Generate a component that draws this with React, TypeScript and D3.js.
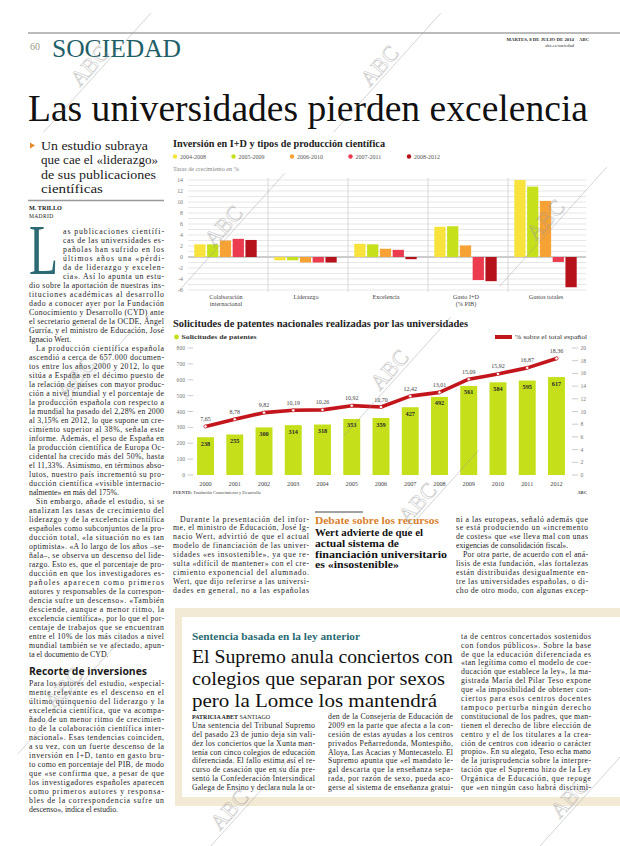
import React from "react";
import * as d3 from "d3";

const SERIF = "'Liberation Serif','Times New Roman',serif";
const SANS = "'Open Sans','Liberation Sans',sans-serif";

// ---------- Chart 1 data ----------
const groups = ["Colaboración internacional", "Liderazgo", "Excelencia", "Gasto I+D (% PIB)", "Gastos totales"];
const groupLabelLines = [["Colaboración", "internacional"], ["Liderazgo"], ["Excelencia"], ["Gasto I+D", "(% PIB)"], ["Gastos totales"]];
const periods = ["2004-2008", "2005-2009", "2006-2010", "2007-2011", "2008-2012"];
const p2004_2008 = [2.3, -0.6, 2.4, 5.5, 14.0];
const p2005_2009 = [2.3, -0.6, 2.3, 5.6, 12.8];
const p2006_2010 = [3.0, -1.0, 1.5, 2.1, 10.2];
const p2007_2011 = [3.3, -1.0, 1.3, -4.2, -0.9];
const p2008_2012 = [3.1, -1.0, -0.4, -4.4, -5.5];
const periodColors = ["#f8e23c", "#c6e01c", "#f6a235", "#ec3a4f", "#b5121c"];
const yTicks1 = [-6, -4, -2, 0, 2, 4, 6, 8, 10, 12, 14];

// ---------- Chart 2 data ----------
const years = ["2000", "2001", "2002", "2003", "2004", "2005", "2006", "2007", "2008", "2009", "2010", "2011", "2012"];
const patents = [238, 255, 300, 314, 318, 353, 359, 427, 492, 561, 584, 595, 617];
const shares = [7.65, 8.78, 9.82, 10.19, 10.26, 10.92, 10.7, 12.42, 13.01, 15.09, 15.92, 16.87, 18.36];
const leftTicks = [0, 100, 200, 300, 400, 500, 600, 700, 800];
const rightTicks = [0, 2, 4, 6, 8, 10, 12, 14, 16, 18, 20];

// ---------- Text ----------
const subtitle = ["Un estudio subraya", "que cae el «liderazgo»", "de sus publicaciones", "científicas"];
const leftCol = [
  "as publicaciones científi-",
  "cas de las universidades es-",
  "pañolas han sufrido en los",
  "últimos años una «pérdi-",
  "da de liderazgo y excelen-",
  "cia». Así lo apunta un estu-",
  "dio sobre la aportación de nuestras ins-",
  "tituciones académicas al desarrollo",
  "dado a conocer ayer por la Fundación",
  "Conocimiento y Desarrollo (CYD) ante",
  "el secretario general de la OCDE, Ángel",
  "Gurría, y el ministro de Educación, José",
  "Ignacio Wert.$",
  "^La producción científica española",
  "ascendió a cerca de 657.000 documen-",
  "tos entre los años 2000 y 2012, lo que",
  "sitúa a España en el décimo puesto de",
  "la relación de países con mayor produc-",
  "ción a nivel mundial y el porcentaje de",
  "la producción española con respecto a",
  "la mundial ha pasado del 2,28% en 2000",
  "al 3,15% en 2012, lo que supone un cre-",
  "cimiento superior al 38%, señala este",
  "informe. Además, el peso de España en",
  "la producción científica de Europa Oc-",
  "cidental ha crecido más del 50%, hasta",
  "el 11,33%. Asimismo, en términos abso-",
  "lutos, nuestro país incrementó su pro-",
  "ducción científica «visible internacio-",
  "nalmente» en más del 175%.$",
  "^Sin embargo, añade el estudio, si se",
  "analizan las tasas de crecimiento del",
  "liderazgo y de la excelencia científica",
  "españoles como subconjuntos de la pro-",
  "ducción total, «la situación no es tan",
  "optimista». «A lo largo de los años –se-",
  "ñala–, se observa un descenso del lide-",
  "razgo. Esto es, que el porcentaje de pro-",
  "ducción en que los investigadores es-",
  "pañoles aparecen como primeros",
  "autores y responsables de la correspon-",
  "dencia sufre un descenso». «También",
  "desciende, aunque a menor ritmo, la",
  "excelencia científica», por lo que el por-",
  "centaje de trabajos que se encuentran",
  "entre el 10% de los más citados a nivel",
  "mundial también se ve afectado, apun-",
  "ta el documento de CYD.$",
];
const leftCol2 = [
  "Para los autores del estudio, «especial-",
  "mente relevante es el descenso en el",
  "último quinquenio del liderazgo y la",
  "excelencia científica, que va acompa-",
  "ñado de un menor ritmo de crecimien-",
  "to de la colaboración científica inter-",
  "nacional». Esas tendencias coinciden,",
  "a su vez, con un fuerte descenso de la",
  "inversión en I+D, tanto en gasto bru-",
  "to como en porcentaje del PIB, de modo",
  "que «se confirma que, a pesar de que",
  "los investigadores españoles aparecen",
  "como primeros autores y responsa-",
  "bles de la correspondencia sufre un",
  "descenso», indica el estudio.$",
];
const midCol = [
  "^Durante la presentación del infor-",
  "me, el ministro de Educación, José Ig-",
  "nacio Wert, advirtió de que el actual",
  "modelo de financiación de las univer-",
  "sidades «es insostenible», ya que re-",
  "sulta «difícil de mantener» con el cre-",
  "cimiento exponencial del alumnado.",
  "Wert, que dijo referirse a las universi-",
  "dades en general, no a las españolas",
];
const rightCol = [
  "ni a las europeas, señaló además que",
  "se está produciendo un «incremento",
  "de costes» que «se lleva mal con unas",
  "exigencias de consolidación fiscal».$",
  "^Por otra parte, de acuerdo con el aná-",
  "lisis de esta fundación, «las fortalezas",
  "están distribuidas desigualmente en-",
  "tre las universidades españolas, o di-",
  "cho de otro modo, con algunas excep-",
];
const debateHead = ["Wert advierte de que el", "actual sistema de", "financiación universitario", "es «insostenible»"];
const boxHead = ["El Supremo anula conciertos con", "colegios que separan por sexos", "pero la Lomce los mantendrá"];
const boxColA = [
  "Una sentencia del Tribunal Supremo",
  "del pasado 23 de junio deja sin vali-",
  "dez los conciertos que la Xunta man-",
  "tenía con cinco colegios de educación",
  "diferenciada. El fallo estima así el re-",
  "curso de casación que en su día pre-",
  "sentó la Confederación Intersindical",
  "Galega de Ensino y declara nula la or-",
];
const boxColB = [
  "den de la Consejería de Educación de",
  "2009 en la parte que afecta a la con-",
  "cesión de estas ayudas a los centros",
  "privados Peñarredonda, Montespiño,",
  "Aloya, Las Acacias y Montecastelo. El",
  "Supremo apunta que «el mandato le-",
  "gal descarta que la enseñanza sepa-",
  "rada, por razón de sexo, pueda aco-",
  "gerse al sistema de enseñanza gratui-",
];
const boxColC = [
  "ta de centros concertados sostenidos",
  "con fondos públicos». Sobre la base",
  "de que la educación diferenciada es",
  "«tan legítima como el modelo de coe-",
  "ducación que establece la ley», la ma-",
  "gistrada María del Pilar Teso expone",
  "que «la imposibilidad de obtener con-",
  "ciertos para esos centros docentes",
  "tampoco perturba ningún derecho",
  "constitucional de los padres, que man-",
  "tienen el derecho de libre elección de",
  "centro y el de los titulares a la crea-",
  "ción de centros con ideario o carácter",
  "propio». En su alegato, Teso echa mano",
  "de la jurisprudencia sobre la interpre-",
  "tación que el Supremo hizo de la Ley",
  "Orgánica de Educación, que recoge",
  "que «en ningún caso habrá discrimi-",
];

const watermarks = [
  [92, 68], [382, 68], [226, 228], [548, 222], [392, 372], [78, 380], [420, 505], [232, 812], [572, 800], [66, 690],
];

function parse(raw: string) {
  let s = raw, ind = 0, last = false;
  if (s.startsWith("^")) { s = s.slice(1); ind = 7; }
  if (s.endsWith("$")) { s = s.slice(0, -1); last = true; }
  return { s, ind, last };
}

function column(lines: string[], x: number, width: number, y0: number, lh: number) {
  return lines.map((raw, i) => {
    const { s, ind, last } = parse(raw);
    return (
      <text key={i} x={x + ind} y={y0 + i * lh} fontSize={7.8} fontFamily={SERIF} fill="#1e1e1e"
        textLength={last ? undefined : width - ind} lengthAdjust="spacing">{s}</text>
    );
  });
}

function Watermark({ x, y }: { x: number; y: number }) {
  return (
    <g transform={`translate(${x},${y}) rotate(-48)`} opacity={0.55}>
      <line x1={-80} y1={7} x2={80} y2={7} stroke="#9a9a9a" strokeWidth={0.7} />
      <text x={0} y={4} textAnchor="middle" fontSize={22} fontFamily={SERIF} fill="none" stroke="#9a9a9a" strokeWidth={0.6}>ABC</text>
    </g>
  );
}

export default function App() {
  const series1 = [p2004_2008, p2005_2009, p2006_2010, p2007_2011, p2008_2012];
  const x1 = d3.scaleBand<string>().domain(groups).range([188, 588]);
  const xs = d3.scaleBand<string>().domain(periods).range([6.3, 68.7]).paddingInner(0.12);
  const y1 = d3.scaleLinear().domain([-6, 14]).range([290, 180]);
  const grid1 = d3.range(-6, 15, 1);

  const x2 = d3.scaleBand<string>().domain(years).range([190.9, 571.1]).paddingInner(0.42).paddingOuter(0.21);
  const yL = d3.scaleLinear().domain([0, 800]).range([475, 348]);
  const yR = d3.scaleLinear().domain([0, 20]).range([475, 348]);
  const cx = (i: number) => (x2(years[i]) as number) + x2.bandwidth() / 2;
  const linePath = d3.line<number>().x((_, i) => cx(i)).y((d) => yR(d))(shares) || "";
  const fmt = (v: number) => d3.format(".2f")(v).replace(".", ",");

  const lh = 9;
  const colY = 233.5;
  const subW = [107, 117, 115, 62];
  const headW = [261, 253, 245];

  return (
    <svg width={620} height={846} style={{ position: "absolute", left: 0, top: 0, background: "#fff" }}>
      <rect x={0} y={0} width={620} height={846} fill="#fff" />

      {/* Header */}
      <line x1={28} y1={33} x2={620} y2={33} stroke="#666" strokeWidth={0.9} />
      <text x={30} y={50} fontSize={10} fontFamily={SERIF} fill="#9a9a8a">60</text>
      <text x={52} y={57} fontSize={25} fontFamily={SERIF} fill="#1f6068" textLength={129} lengthAdjust="spacingAndGlyphs">SOCIEDAD</text>
      <text x={574} y={41} textAnchor="end" fontSize={4.8} fontFamily={SERIF} fontWeight="bold" fill="#333">MARTES, 8 DE JULIO DE 2014</text>
      <text x={579} y={41} fontSize={4.8} fontFamily={SERIF} fontWeight="bold" fill="#333">ABC</text>
      <text x={574} y={47} textAnchor="end" fontSize={4.6} fontFamily={SERIF} fill="#333">abc.es/sociedad</text>

      <text x={28} y={121} fontSize={37} fontFamily={SERIF} fill="#111" textLength={560} lengthAdjust="spacingAndGlyphs">Las universidades pierden excelencia</text>

      {/* Subtitle */}
      <path d="M30,142.5 L35,145.5 L30,148.5 Z" fill="#e8892b" />
      {subtitle.map((t, i) => (
        <text key={i} x={41} y={149.5 + i * 14.5} fontSize={12.6} fontFamily={SERIF} fill="#1a1a1a"
          textLength={subW[i]} lengthAdjust="spacingAndGlyphs">{t}</text>
      ))}
      <line x1={28} y1={200.5} x2={164} y2={200.5} stroke="#999" strokeWidth={1.4} />

      {/* Byline + drop cap (drop cap squeezed by transform) */}
      <text x={29} y={210} fontSize={6.2} fontWeight="bold" fontFamily={SERIF} fill="#222">M. TRILLO</text>
      <text x={29} y={217.5} fontSize={5.6} letterSpacing={0.3} fontFamily={SERIF} fill="#222">MADRID</text>
      <text transform="translate(29,274) scale(0.67,1)" x={0} y={0} fontSize={71} fontFamily={SERIF} fill="#2b6a73">L</text>
      {column(leftCol.slice(0, 6), 63, 101, colY, lh)}
      {column(leftCol.slice(6), 29, 135, colY + 6 * lh, lh)}
      <text x={29} y={674.5} fontSize={10.5} fontFamily={SANS} fontWeight="bold" fill="#1a1a1a" textLength={118} lengthAdjust="spacingAndGlyphs">Recorte de inversiones</text>
      {column(leftCol2, 29, 135, 686, lh)}

      {/* Chart 1 */}
      <text x={173} y={146.5} fontSize={10} fontFamily={SERIF} fontWeight="bold" fill="#222" textLength={212} lengthAdjust="spacingAndGlyphs">Inversión en I+D y tipos de producción científica</text>
      {periods.map((p, i) => (
        <g key={p}>
          <circle cx={175 + i * 58.5} cy={156.5} r={2.2} fill={periodColors[i]} />
          <text x={180 + i * 58.5} y={158.6} fontSize={6} fontFamily={SERIF} fill="#555">{p}</text>
        </g>
      ))}
      <text x={173} y={170.5} fontSize={6.2} fontFamily={SERIF} fill="#888">Tasas de crecimiento en %</text>
      {grid1.map((v) => (
        <line key={v} x1={188} x2={586} y1={y1(v)} y2={y1(v)} stroke={v === 0 ? "#9a9a9a" : "#d6d6d6"} strokeWidth={v === 0 ? 1 : 0.6} />
      ))}
      {yTicks1.map((v) => (
        <text key={v} x={183} y={y1(v) + 2} textAnchor="end" fontSize={5.8} fontFamily={SERIF} fill="#777">{v}</text>
      ))}
      {groups.slice(1).map((g) => (
        <line key={g} x1={x1(g)} x2={x1(g)} y1={178} y2={292} stroke="#c8c8c8" strokeWidth={0.7} />
      ))}
      {groups.map((g, gi) => (
        <g key={g}>
          {series1.map((s, si) => {
            const v = s[gi];
            const yTop = y1(Math.max(v, 0));
            const h = Math.abs(y1(v) - y1(0));
            return <rect key={si} x={(x1(g) as number) + (xs(periods[si]) as number)} y={yTop} width={xs.bandwidth()} height={h} fill={periodColors[si]} />;
          })}
          {groupLabelLines[gi].map((t, li) => (
            <text key={li} x={(x1(g) as number) + x1.bandwidth() / 2 - 2} y={298.5 + li * 7.5} textAnchor="middle" fontSize={6.2} fontFamily={SERIF} fill="#444">{t}</text>
          ))}
        </g>
      ))}

      {/* Chart 2 */}
      <text x={173} y={326.5} fontSize={10.5} fontFamily={SERIF} fontWeight="bold" fill="#222" textLength={295} lengthAdjust="spacingAndGlyphs">Solicitudes de patentes nacionales realizadas por las universidades</text>
      <circle cx={176.5} cy={337} r={2.4} fill="#c5e01b" />
      <text x={181.5} y={339.3} fontSize={6.4} fontFamily={SERIF} fontWeight="bold" fill="#333" textLength={75} lengthAdjust="spacingAndGlyphs">Solicitudes de patentes</text>
      <line x1={495} x2={512} y1={337} y2={337} stroke="#c3161c" strokeWidth={4} />
      <text x={587} y={339.3} textAnchor="end" fontSize={6.2} fontFamily={SERIF} fill="#333" textLength={72} lengthAdjust="spacingAndGlyphs">% sobre el total español</text>
      {leftTicks.map((v) => (
        <g key={v}>
          <text x={185} y={yL(v) + 2} textAnchor="end" fontSize={5.6} fontFamily={SERIF} fill="#777">{v}</text>
          <line x1={187.5} x2={193} y1={yL(v)} y2={yL(v)} stroke="#aaa" strokeWidth={0.6} />
        </g>
      ))}
      {rightTicks.map((v) => (
        <g key={v}>
          <line x1={572} x2={578} y1={yR(v)} y2={yR(v)} stroke="#aaa" strokeWidth={0.6} />
          <text x={580.5} y={yR(v) + 2} fontSize={5.6} fontFamily={SERIF} fill="#777">{v}</text>
        </g>
      ))}
      {patents.map((v, i) => (
        <g key={years[i]}>
          <rect x={x2(years[i])} y={yL(v)} width={x2.bandwidth()} height={yL(0) - yL(v)} fill="#c5e01b" />
          <text x={cx(i)} y={yL(v) + 8.5} textAnchor="middle" fontSize={6.3} fontFamily={SERIF} fontWeight="bold" fill="#2a2a2a">{v}</text>
          <text x={cx(i)} y={485.5} textAnchor="middle" fontSize={6.2} fontFamily={SERIF} fill="#444">{years[i]}</text>
        </g>
      ))}
      <path d={linePath} fill="none" stroke="#c3161c" strokeWidth={3.6} strokeLinejoin="round" strokeLinecap="round" />
      {shares.map((v, i) => (
        <g key={i}>
          <circle cx={cx(i)} cy={yR(v)} r={1.6} fill="#fff" stroke="#c3161c" strokeWidth={0.6} />
          <text x={cx(i)} y={yR(v) - 5.5} textAnchor="middle" fontSize={6} fontFamily={SERIF} fill="#444">{fmt(v)}</text>
        </g>
      ))}
      <text x={173} y={494} fontSize={4.4} fontFamily={SERIF} fill="#444"><tspan fontWeight="bold">FUENTE:</tspan> Fundación Conocimiento y Desarrollo</text>
      <text x={587} y={494} textAnchor="end" fontSize={4.6} fontFamily={SERIF} fontWeight="bold" fill="#444">ABC</text>

      {/* Middle articles */}
      {column(midCol, 173, 136, 521.5, 8.9)}
      <line x1={315} x2={363} y1={512} y2={512} stroke="#444" strokeWidth={1} />
      <text x={315} y={524.3} fontSize={9.5} fontFamily={SERIF} fontWeight="bold" fill="#d9802a" textLength={124} lengthAdjust="spacingAndGlyphs">Debate sobre los recursos</text>
      {debateHead.map((t, i) => (
        <text key={i} x={315} y={536 + i * 10.8} fontSize={9.4} fontFamily={SERIF} fontWeight="bold" fill="#111"
          textLength={[108, 84, 132, 84][i]} lengthAdjust="spacingAndGlyphs">{t}</text>
      ))}
      {column(rightCol, 456, 132, 521.5, 8.9)}

      {/* Box article */}
      <rect x={175} y={608} width={445} height={198} fill="#f3ead6" />
      <rect x={182} y={617} width={438} height={180} fill="#fff" />
      <text x={192} y={639.5} fontSize={9.3} fontFamily={SERIF} fontWeight="bold" fill="#2a6b73" textLength={168} lengthAdjust="spacingAndGlyphs">Sentencia basada en la ley anterior</text>
      {boxHead.map((t, i) => (
        <text key={i} x={192} y={663 + i * 21.8} fontSize={19.6} fontFamily={SERIF} fill="#111"
          textLength={headW[i]} lengthAdjust="spacingAndGlyphs">{t}</text>
      ))}
      <text x={192} y={719} fontSize={6} fontFamily={SERIF} fill="#222"><tspan fontWeight="bold">PATRICIA ABET</tspan> SANTIAGO</text>
      {column(boxColA, 192, 123, 727.8, 8.9)}
      {column(boxColB, 328, 125, 718.9, 8.9)}
      {column(boxColC, 461, 130, 638.7, 8.9)}

      {/* Watermarks */}
      {watermarks.map(([x, y], i) => <Watermark key={i} x={x} y={y} />)}
    </svg>
  );
}
